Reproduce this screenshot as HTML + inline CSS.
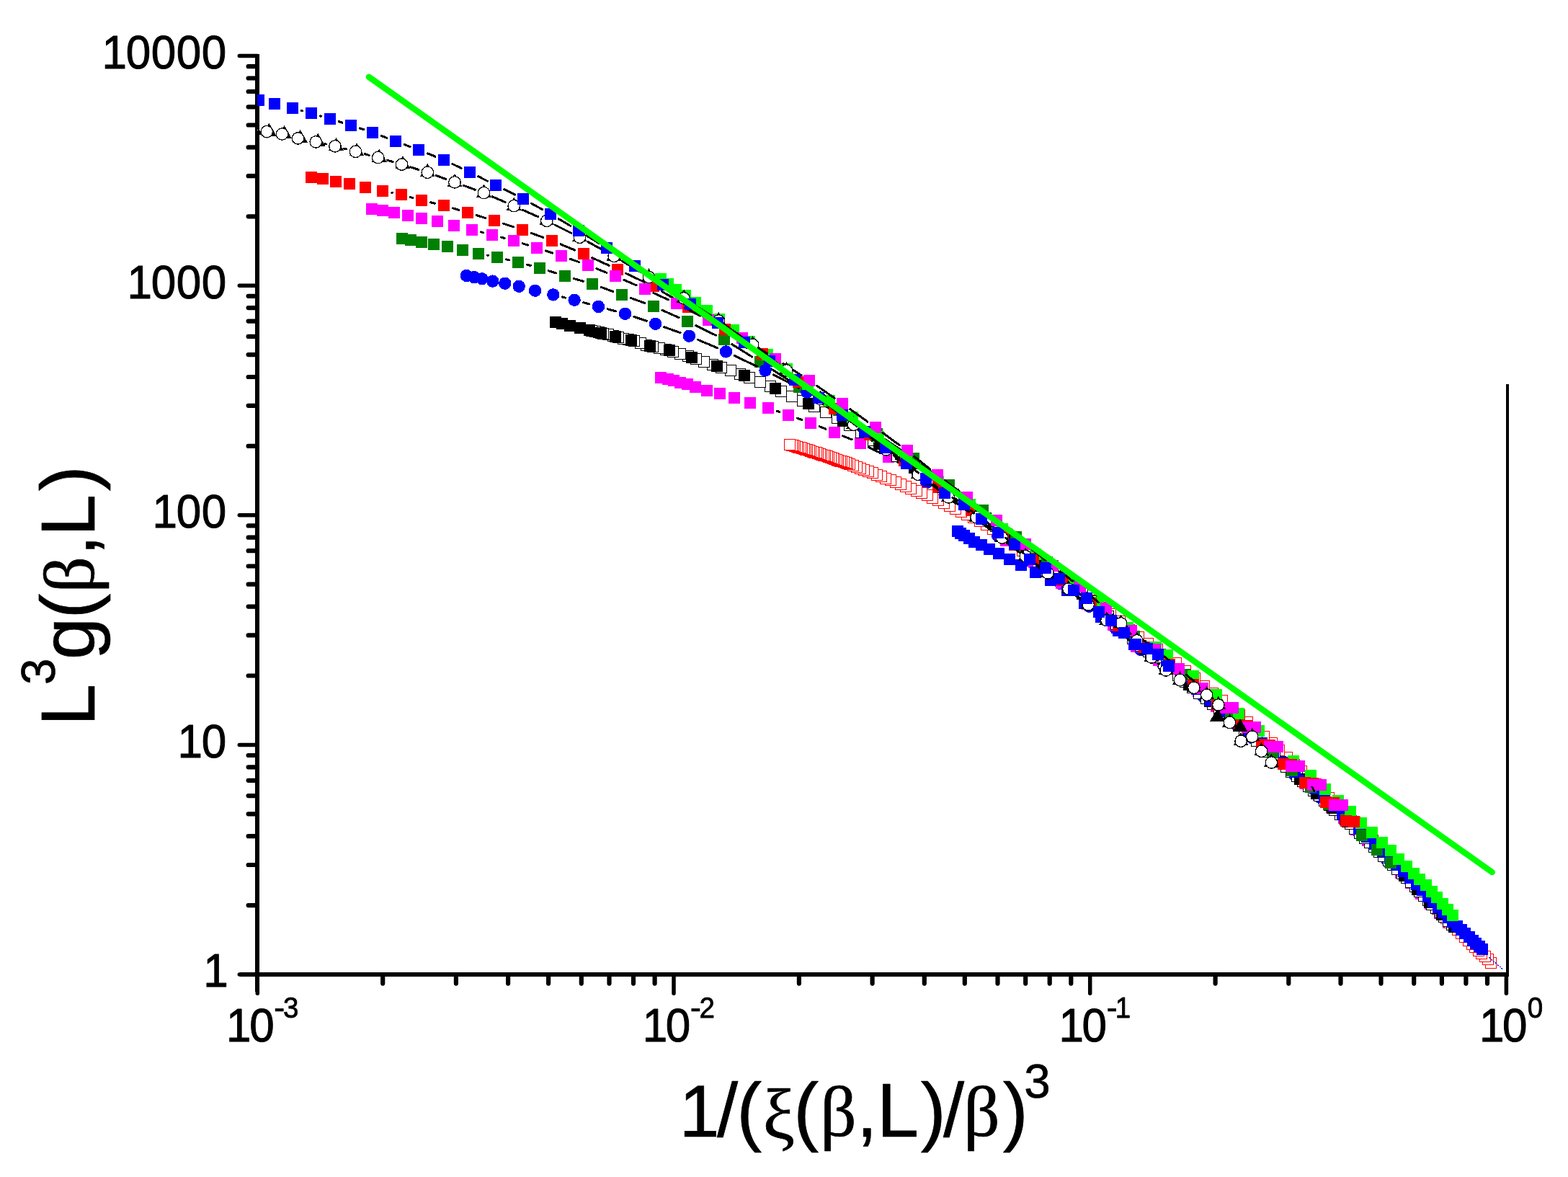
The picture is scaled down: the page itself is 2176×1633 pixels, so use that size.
<!DOCTYPE html>
<html><head><meta charset="utf-8"><title>Scaling plot</title>
<style>
html,body{margin:0;padding:0;background:#fff;}
body{width:2176px;height:1633px;overflow:hidden;}
svg{display:block;}
text{font-family:"Liberation Sans",sans-serif;fill:#000;stroke:#000;stroke-linejoin:round;}
.gk{font-family:"Liberation Serif",serif;}
</style></head><body>
<svg width="2176" height="1633" viewBox="0 0 2176 1633">
<rect width="2176" height="1633" fill="#fff"/>
<defs><clipPath id="plotclip"><rect x="356.9" y="60" width="1760" height="1292.0"/></clipPath></defs>
<g shape-rendering="crispEdges">
<rect x="354.2" y="75.2" width="5.6" height="1300.8" fill="#000"/>
<rect x="333" y="1349.2" width="1761.3000000000002" height="5.6" fill="#000"/>
<rect x="2089.9" y="533" width="4.4" height="821.8" fill="#000"/>
<path d="M332.3,1352.0H357M332.3,1033.4H357M332.3,714.8H357M332.3,396.2H357M332.3,77.6H357M357.3,1352.0V1378.2M935.0,1352.0V1378.2M1512.7,1352.0V1378.2M2090.4,1352.0V1378.2" stroke="#000" stroke-width="5.5" stroke-linecap="round" fill="none" shape-rendering="geometricPrecision"/>
<path d="M344.6,1256.1H357M344.6,1200.0H357M344.6,1160.2H357M344.6,1129.3H357M344.6,1104.1H357M344.6,1082.8H357M344.6,1064.3H357M344.6,1048.0H357M344.6,937.5H357M344.6,881.4H357M344.6,841.6H357M344.6,810.7H357M344.6,785.5H357M344.6,764.2H357M344.6,745.7H357M344.6,729.4H357M344.6,618.9H357M344.6,562.8H357M344.6,523.0H357M344.6,492.1H357M344.6,466.9H357M344.6,445.6H357M344.6,427.1H357M344.6,410.8H357M344.6,300.3H357M344.6,244.2H357M344.6,204.4H357M344.6,173.5H357M344.6,148.3H357M344.6,127.0H357M344.6,108.5H357M344.6,92.2H357M531.2,1352.0V1364.6M632.9,1352.0V1364.6M705.1,1352.0V1364.6M761.1,1352.0V1364.6M806.8,1352.0V1364.6M845.5,1352.0V1364.6M879.0,1352.0V1364.6M908.6,1352.0V1364.6M1108.9,1352.0V1364.6M1210.6,1352.0V1364.6M1282.8,1352.0V1364.6M1338.8,1352.0V1364.6M1384.5,1352.0V1364.6M1423.2,1352.0V1364.6M1456.7,1352.0V1364.6M1486.3,1352.0V1364.6M1686.6,1352.0V1364.6M1788.3,1352.0V1364.6M1860.5,1352.0V1364.6M1916.5,1352.0V1364.6M1962.2,1352.0V1364.6M2000.9,1352.0V1364.6M2034.4,1352.0V1364.6M2064.0,1352.0V1364.6" stroke="#000" stroke-width="6.2" stroke-linecap="round" fill="none" shape-rendering="geometricPrecision"/>
</g>
<g shape-rendering="crispEdges" clip-path="url(#plotclip)">
<g><circle cx="1925.0" cy="1193.5" r="8.7" fill="#0000ff"/><circle cx="1911.1" cy="1180.0" r="8.7" fill="#0000ff"/><circle cx="1896.7" cy="1166.0" r="8.7" fill="#0000ff"/><circle cx="1881.7" cy="1151.5" r="8.7" fill="#0000ff"/><circle cx="1866.0" cy="1136.9" r="8.7" fill="#0000ff"/><circle cx="1849.8" cy="1122.3" r="8.7" fill="#0000ff"/><circle cx="1832.9" cy="1106.9" r="8.7" fill="#0000ff"/><circle cx="1815.3" cy="1090.9" r="8.7" fill="#0000ff"/><circle cx="1797.1" cy="1075.6" r="8.7" fill="#0000ff"/><circle cx="1778.1" cy="1058.5" r="8.7" fill="#0000ff"/><circle cx="1758.3" cy="1041.3" r="8.7" fill="#0000ff"/><circle cx="1737.8" cy="1023.6" r="8.7" fill="#0000ff"/><circle cx="1716.4" cy="1005.3" r="8.7" fill="#0000ff"/><circle cx="1693.9" cy="986.3" r="8.7" fill="#0000ff"/><circle cx="1669.5" cy="966.0" r="8.7" fill="#0000ff"/><circle cx="1642.9" cy="944.4" r="8.7" fill="#0000ff"/><circle cx="1614.0" cy="922.1" r="8.7" fill="#0000ff"/><circle cx="1582.7" cy="901.4" r="8.7" fill="#0000ff"/><circle cx="1548.5" cy="872.4" r="8.7" fill="#0000ff"/><circle cx="1511.5" cy="841.3" r="8.7" fill="#0000ff"/><circle cx="1471.8" cy="809.7" r="8.7" fill="#0000ff"/><circle cx="1429.5" cy="778.1" r="8.7" fill="#0000ff"/><circle cx="1384.6" cy="743.1" r="8.7" fill="#0000ff"/><circle cx="1336.8" cy="706.0" r="8.7" fill="#0000ff"/><circle cx="1286.2" cy="669.3" r="8.7" fill="#0000ff"/><circle cx="1233.3" cy="628.5" r="8.7" fill="#0000ff"/><circle cx="1177.9" cy="586.9" r="8.7" fill="#0000ff"/></g>
<g><path d="M1078.3,570.3L1081.7,571.5M1106.3,580.1L1112.7,582.5M1137.1,591.6L1145.8,595.2M1169.9,604.9L1182.0,609.8M1205.6,620.5L1221.3,628.2M1244.3,640.2L1262.0,649.9M1283.7,664.0L1305.1,680.4M1325.9,696.0L1345.8,710.4M1366.4,726.2L1385.9,741.9M1406.3,758.0L1424.6,772.4M1445.2,788.2L1462.1,800.9M1482.7,816.8L1499.1,829.7M1519.2,846.1L1534.6,859.0M1554.3,876.0L1567.8,887.9M1588.4,903.6L1597.2,909.3M1618.5,924.2L1626.1,930.0M1646.6,946.0L1652.8,951.0" stroke="#000" stroke-width="3" stroke-linecap="round" fill="none"/><rect x="2002" y="1272" width="16" height="16" fill="#ff00ff"/><rect x="1990" y="1259" width="16" height="16" fill="#ff00ff"/><rect x="1977" y="1246" width="16" height="16" fill="#ff00ff"/><rect x="1964" y="1232" width="16" height="16" fill="#ff00ff"/><rect x="1950" y="1217" width="16" height="16" fill="#ff00ff"/><rect x="1936" y="1203" width="16" height="16" fill="#ff00ff"/><rect x="1921" y="1188" width="16" height="16" fill="#ff00ff"/><rect x="1906" y="1174" width="16" height="16" fill="#ff00ff"/><rect x="1890" y="1158" width="16" height="16" fill="#ff00ff"/><rect x="1874" y="1143" width="16" height="16" fill="#ff00ff"/><rect x="1857" y="1127" width="16" height="16" fill="#ff00ff"/><rect x="1840" y="1112" width="16" height="16" fill="#ff00ff"/><rect x="1822" y="1095" width="16" height="16" fill="#ff00ff"/><rect x="1804" y="1079" width="16" height="16" fill="#ff00ff"/><rect x="1785" y="1063" width="16" height="16" fill="#ff00ff"/><rect x="1765" y="1045" width="16" height="16" fill="#ff00ff"/><rect x="1745" y="1027" width="16" height="16" fill="#ff00ff"/><rect x="1724" y="1009" width="16" height="16" fill="#ff00ff"/><rect x="1702" y="991" width="16" height="16" fill="#ff00ff"/><rect x="1680" y="972" width="16" height="16" fill="#ff00ff"/><rect x="1655" y="951" width="16" height="16" fill="#ff00ff"/><rect x="1629" y="930" width="16" height="16" fill="#ff00ff"/><rect x="1600" y="908" width="16" height="16" fill="#ff00ff"/><rect x="1569" y="889" width="16" height="16" fill="#ff00ff"/><rect x="1537" y="859" width="16" height="16" fill="#ff00ff"/><rect x="1501" y="830" width="16" height="16" fill="#ff00ff"/><rect x="1465" y="801" width="16" height="16" fill="#ff00ff"/><rect x="1427" y="772" width="16" height="16" fill="#ff00ff"/><rect x="1388" y="742" width="16" height="16" fill="#ff00ff"/><rect x="1348" y="710" width="16" height="16" fill="#ff00ff"/><rect x="1307" y="680" width="16" height="16" fill="#ff00ff"/><rect x="1265" y="648" width="16" height="16" fill="#ff00ff"/><rect x="1225" y="626" width="16" height="16" fill="#ff00ff"/><rect x="1186" y="607" width="16" height="16" fill="#ff00ff"/><rect x="1150" y="592" width="16" height="16" fill="#ff00ff"/><rect x="1117" y="579" width="16" height="16" fill="#ff00ff"/><rect x="1086" y="568" width="16" height="16" fill="#ff00ff"/><rect x="1058" y="558" width="16" height="16" fill="#ff00ff"/><rect x="1033" y="551" width="16" height="16" fill="#ff00ff"/><rect x="1011" y="544" width="16" height="16" fill="#ff00ff"/><rect x="991" y="538" width="16" height="16" fill="#ff00ff"/><rect x="973" y="534" width="16" height="16" fill="#ff00ff"/><rect x="957" y="529" width="16" height="16" fill="#ff00ff"/><rect x="946" y="525" width="16" height="16" fill="#ff00ff"/><rect x="936" y="523" width="16" height="16" fill="#ff00ff"/><rect x="927" y="520" width="16" height="16" fill="#ff00ff"/><rect x="919" y="518" width="16" height="16" fill="#ff00ff"/><rect x="909" y="516" width="16" height="16" fill="#ff00ff"/></g>
<g><rect x="2061.5" y="1328.5" width="15" height="15" fill="#fff" stroke="#ff0000" stroke-width="1"/><rect x="2057.5" y="1323.5" width="15" height="15" fill="#fff" stroke="#ff0000" stroke-width="1"/><rect x="2053.5" y="1319.5" width="15" height="15" fill="#fff" stroke="#ff0000" stroke-width="1"/><rect x="2048.5" y="1315.5" width="15" height="15" fill="#fff" stroke="#ff0000" stroke-width="1"/><rect x="2044.5" y="1311.5" width="15" height="15" fill="#fff" stroke="#ff0000" stroke-width="1"/><rect x="2039.5" y="1306.5" width="15" height="15" fill="#fff" stroke="#ff0000" stroke-width="1"/><rect x="2035.5" y="1302.5" width="15" height="15" fill="#fff" stroke="#ff0000" stroke-width="1"/><rect x="2030.5" y="1297.5" width="15" height="15" fill="#fff" stroke="#ff0000" stroke-width="1"/><rect x="2025.5" y="1292.5" width="15" height="15" fill="#fff" stroke="#ff0000" stroke-width="1"/><rect x="2020.5" y="1287.5" width="15" height="15" fill="#fff" stroke="#ff0000" stroke-width="1"/><rect x="2015.5" y="1282.5" width="15" height="15" fill="#fff" stroke="#ff0000" stroke-width="1"/><rect x="2010.5" y="1277.5" width="15" height="15" fill="#fff" stroke="#ff0000" stroke-width="1"/><rect x="2004.5" y="1272.5" width="15" height="15" fill="#fff" stroke="#ff0000" stroke-width="1"/><rect x="1999.5" y="1266.5" width="15" height="15" fill="#fff" stroke="#ff0000" stroke-width="1"/><rect x="1993.5" y="1259.5" width="15" height="15" fill="#fff" stroke="#ff0000" stroke-width="1"/><rect x="1987.5" y="1253.5" width="15" height="15" fill="#fff" stroke="#ff0000" stroke-width="1"/><rect x="1981.5" y="1247.5" width="15" height="15" fill="#fff" stroke="#ff0000" stroke-width="1"/><rect x="1975.5" y="1240.5" width="15" height="15" fill="#fff" stroke="#ff0000" stroke-width="1"/><rect x="1969.5" y="1233.5" width="15" height="15" fill="#fff" stroke="#ff0000" stroke-width="1"/><rect x="1962.5" y="1226.5" width="15" height="15" fill="#fff" stroke="#ff0000" stroke-width="1"/><rect x="1956.5" y="1219.5" width="15" height="15" fill="#fff" stroke="#ff0000" stroke-width="1"/><rect x="1949.5" y="1211.5" width="15" height="15" fill="#fff" stroke="#ff0000" stroke-width="1"/><rect x="1942.5" y="1204.5" width="15" height="15" fill="#fff" stroke="#ff0000" stroke-width="1"/><rect x="1935.5" y="1196.5" width="15" height="15" fill="#fff" stroke="#ff0000" stroke-width="1"/><rect x="1927.5" y="1189.5" width="15" height="15" fill="#fff" stroke="#ff0000" stroke-width="1"/><rect x="1920.5" y="1181.5" width="15" height="15" fill="#fff" stroke="#ff0000" stroke-width="1"/><rect x="1912.5" y="1174.5" width="15" height="15" fill="#fff" stroke="#ff0000" stroke-width="1"/><rect x="1904.5" y="1166.5" width="15" height="15" fill="#fff" stroke="#ff0000" stroke-width="1"/><rect x="1897.5" y="1158.5" width="15" height="15" fill="#fff" stroke="#ff0000" stroke-width="1"/><rect x="1888.5" y="1150.5" width="15" height="15" fill="#fff" stroke="#ff0000" stroke-width="1"/><rect x="1880.5" y="1141.5" width="15" height="15" fill="#fff" stroke="#ff0000" stroke-width="1"/><rect x="1872.5" y="1133.5" width="15" height="15" fill="#fff" stroke="#ff0000" stroke-width="1"/><rect x="1863.5" y="1124.5" width="15" height="15" fill="#fff" stroke="#ff0000" stroke-width="1"/><rect x="1855.5" y="1116.5" width="15" height="15" fill="#fff" stroke="#ff0000" stroke-width="1"/><rect x="1846.5" y="1107.5" width="15" height="15" fill="#fff" stroke="#ff0000" stroke-width="1"/><rect x="1836.5" y="1099.5" width="15" height="15" fill="#fff" stroke="#ff0000" stroke-width="1"/><rect x="1827.5" y="1090.5" width="15" height="15" fill="#fff" stroke="#ff0000" stroke-width="1"/><rect x="1818.5" y="1080.5" width="15" height="15" fill="#fff" stroke="#ff0000" stroke-width="1"/><rect x="1808.5" y="1071.5" width="15" height="15" fill="#fff" stroke="#ff0000" stroke-width="1"/><rect x="1798.5" y="1062.5" width="15" height="15" fill="#fff" stroke="#ff0000" stroke-width="1"/><rect x="1788.5" y="1053.5" width="15" height="15" fill="#fff" stroke="#ff0000" stroke-width="1"/><rect x="1778.5" y="1043.5" width="15" height="15" fill="#fff" stroke="#ff0000" stroke-width="1"/><rect x="1767.5" y="1033.5" width="15" height="15" fill="#fff" stroke="#ff0000" stroke-width="1"/><rect x="1757.5" y="1023.5" width="15" height="15" fill="#fff" stroke="#ff0000" stroke-width="1"/><rect x="1746.5" y="1014.5" width="15" height="15" fill="#fff" stroke="#ff0000" stroke-width="1"/><rect x="1734.5" y="1004.5" width="15" height="15" fill="#fff" stroke="#ff0000" stroke-width="1"/><rect x="1723.5" y="994.5" width="15" height="15" fill="#fff" stroke="#ff0000" stroke-width="1"/><rect x="1712.5" y="984.5" width="15" height="15" fill="#fff" stroke="#ff0000" stroke-width="1"/><rect x="1700.5" y="974.5" width="15" height="15" fill="#fff" stroke="#ff0000" stroke-width="1"/><rect x="1688.5" y="964.5" width="15" height="15" fill="#fff" stroke="#ff0000" stroke-width="1"/><rect x="1675.5" y="954.5" width="15" height="15" fill="#fff" stroke="#ff0000" stroke-width="1"/><rect x="1663.5" y="944.5" width="15" height="15" fill="#fff" stroke="#ff0000" stroke-width="1"/><rect x="1650.5" y="933.5" width="15" height="15" fill="#fff" stroke="#ff0000" stroke-width="1"/><rect x="1637.5" y="923.5" width="15" height="15" fill="#fff" stroke="#ff0000" stroke-width="1"/><rect x="1624.5" y="912.5" width="15" height="15" fill="#fff" stroke="#ff0000" stroke-width="1"/><rect x="1611.5" y="902.5" width="15" height="15" fill="#fff" stroke="#ff0000" stroke-width="1"/><rect x="1598.5" y="893.5" width="15" height="15" fill="#fff" stroke="#ff0000" stroke-width="1"/><rect x="1585.5" y="885.5" width="15" height="15" fill="#fff" stroke="#ff0000" stroke-width="1"/><rect x="1572.5" y="876.5" width="15" height="15" fill="#fff" stroke="#ff0000" stroke-width="1"/><rect x="1559.5" y="866.5" width="15" height="15" fill="#fff" stroke="#ff0000" stroke-width="1"/><rect x="1546.5" y="854.5" width="15" height="15" fill="#fff" stroke="#ff0000" stroke-width="1"/><rect x="1533.5" y="844.5" width="15" height="15" fill="#fff" stroke="#ff0000" stroke-width="1"/><rect x="1520.5" y="835.5" width="15" height="15" fill="#fff" stroke="#ff0000" stroke-width="1"/><rect x="1507.5" y="825.5" width="15" height="15" fill="#fff" stroke="#ff0000" stroke-width="1"/><rect x="1494.5" y="815.5" width="15" height="15" fill="#fff" stroke="#ff0000" stroke-width="1"/><rect x="1481.5" y="805.5" width="15" height="15" fill="#fff" stroke="#ff0000" stroke-width="1"/><rect x="1469.5" y="797.5" width="15" height="15" fill="#fff" stroke="#ff0000" stroke-width="1"/><rect x="1457.5" y="788.5" width="15" height="15" fill="#fff" stroke="#ff0000" stroke-width="1"/><rect x="1445.5" y="780.5" width="15" height="15" fill="#fff" stroke="#ff0000" stroke-width="1"/><rect x="1433.5" y="772.5" width="15" height="15" fill="#fff" stroke="#ff0000" stroke-width="1"/><rect x="1422.5" y="764.5" width="15" height="15" fill="#fff" stroke="#ff0000" stroke-width="1"/><rect x="1411.5" y="756.5" width="15" height="15" fill="#fff" stroke="#ff0000" stroke-width="1"/><rect x="1400.5" y="748.5" width="15" height="15" fill="#fff" stroke="#ff0000" stroke-width="1"/><rect x="1390.5" y="739.5" width="15" height="15" fill="#fff" stroke="#ff0000" stroke-width="1"/><rect x="1380.5" y="732.5" width="15" height="15" fill="#fff" stroke="#ff0000" stroke-width="1"/><rect x="1370.5" y="726.5" width="15" height="15" fill="#fff" stroke="#ff0000" stroke-width="1"/><rect x="1361.5" y="720.5" width="15" height="15" fill="#fff" stroke="#ff0000" stroke-width="1"/><rect x="1352.5" y="715.5" width="15" height="15" fill="#fff" stroke="#ff0000" stroke-width="1"/><rect x="1343.5" y="710.5" width="15" height="15" fill="#fff" stroke="#ff0000" stroke-width="1"/><rect x="1334.5" y="706.5" width="15" height="15" fill="#fff" stroke="#ff0000" stroke-width="1"/><rect x="1326.5" y="702.5" width="15" height="15" fill="#fff" stroke="#ff0000" stroke-width="1"/><rect x="1318.5" y="698.5" width="15" height="15" fill="#fff" stroke="#ff0000" stroke-width="1"/><rect x="1310.5" y="694.5" width="15" height="15" fill="#fff" stroke="#ff0000" stroke-width="1"/><rect x="1302.5" y="690.5" width="15" height="15" fill="#fff" stroke="#ff0000" stroke-width="1"/><rect x="1294.5" y="686.5" width="15" height="15" fill="#fff" stroke="#ff0000" stroke-width="1"/><rect x="1286.5" y="683.5" width="15" height="15" fill="#fff" stroke="#ff0000" stroke-width="1"/><rect x="1279.5" y="679.5" width="15" height="15" fill="#fff" stroke="#ff0000" stroke-width="1"/><rect x="1271.5" y="676.5" width="15" height="15" fill="#fff" stroke="#ff0000" stroke-width="1"/><rect x="1264.5" y="673.5" width="15" height="15" fill="#fff" stroke="#ff0000" stroke-width="1"/><rect x="1256.5" y="670.5" width="15" height="15" fill="#fff" stroke="#ff0000" stroke-width="1"/><rect x="1249.5" y="667.5" width="15" height="15" fill="#fff" stroke="#ff0000" stroke-width="1"/><rect x="1242.5" y="664.5" width="15" height="15" fill="#fff" stroke="#ff0000" stroke-width="1"/><rect x="1235.5" y="661.5" width="15" height="15" fill="#fff" stroke="#ff0000" stroke-width="1"/><rect x="1228.5" y="658.5" width="15" height="15" fill="#fff" stroke="#ff0000" stroke-width="1"/><rect x="1221.5" y="656.5" width="15" height="15" fill="#fff" stroke="#ff0000" stroke-width="1"/><rect x="1215.5" y="653.5" width="15" height="15" fill="#fff" stroke="#ff0000" stroke-width="1"/><rect x="1209.5" y="651.5" width="15" height="15" fill="#fff" stroke="#ff0000" stroke-width="1"/><rect x="1203.5" y="648.5" width="15" height="15" fill="#fff" stroke="#ff0000" stroke-width="1"/><rect x="1197.5" y="646.5" width="15" height="15" fill="#fff" stroke="#ff0000" stroke-width="1"/><rect x="1191.5" y="644.5" width="15" height="15" fill="#fff" stroke="#ff0000" stroke-width="1"/><rect x="1186.5" y="642.5" width="15" height="15" fill="#fff" stroke="#ff0000" stroke-width="1"/><rect x="1181.5" y="640.5" width="15" height="15" fill="#fff" stroke="#ff0000" stroke-width="1"/><rect x="1176.5" y="638.5" width="15" height="15" fill="#fff" stroke="#ff0000" stroke-width="1"/><rect x="1171.5" y="636.5" width="15" height="15" fill="#fff" stroke="#ff0000" stroke-width="1"/><rect x="1168.5" y="635.5" width="15" height="15" fill="#fff" stroke="#ff0000" stroke-width="1"/><rect x="1166.5" y="634.5" width="15" height="15" fill="#fff" stroke="#ff0000" stroke-width="1"/><rect x="1163.5" y="633.5" width="15" height="15" fill="#fff" stroke="#ff0000" stroke-width="1"/><rect x="1160.5" y="632.5" width="15" height="15" fill="#fff" stroke="#ff0000" stroke-width="1"/><rect x="1158.5" y="632.5" width="15" height="15" fill="#fff" stroke="#ff0000" stroke-width="1"/><rect x="1155.5" y="631.5" width="15" height="15" fill="#fff" stroke="#ff0000" stroke-width="1"/><rect x="1153.5" y="630.5" width="15" height="15" fill="#fff" stroke="#ff0000" stroke-width="1"/><rect x="1150.5" y="629.5" width="15" height="15" fill="#fff" stroke="#ff0000" stroke-width="1"/><rect x="1148.5" y="628.5" width="15" height="15" fill="#fff" stroke="#ff0000" stroke-width="1"/><rect x="1145.5" y="627.5" width="15" height="15" fill="#fff" stroke="#ff0000" stroke-width="1"/><rect x="1142.5" y="626.5" width="15" height="15" fill="#fff" stroke="#ff0000" stroke-width="1"/><rect x="1140.5" y="625.5" width="15" height="15" fill="#fff" stroke="#ff0000" stroke-width="1"/><rect x="1137.5" y="624.5" width="15" height="15" fill="#fff" stroke="#ff0000" stroke-width="1"/><rect x="1135.5" y="624.5" width="15" height="15" fill="#fff" stroke="#ff0000" stroke-width="1"/><rect x="1132.5" y="623.5" width="15" height="15" fill="#fff" stroke="#ff0000" stroke-width="1"/><rect x="1130.5" y="622.5" width="15" height="15" fill="#fff" stroke="#ff0000" stroke-width="1"/><rect x="1127.5" y="621.5" width="15" height="15" fill="#fff" stroke="#ff0000" stroke-width="1"/><rect x="1125.5" y="620.5" width="15" height="15" fill="#fff" stroke="#ff0000" stroke-width="1"/><rect x="1122.5" y="620.5" width="15" height="15" fill="#fff" stroke="#ff0000" stroke-width="1"/><rect x="1120.5" y="619.5" width="15" height="15" fill="#fff" stroke="#ff0000" stroke-width="1"/><rect x="1117.5" y="618.5" width="15" height="15" fill="#fff" stroke="#ff0000" stroke-width="1"/><rect x="1115.5" y="617.5" width="15" height="15" fill="#fff" stroke="#ff0000" stroke-width="1"/><rect x="1112.5" y="616.5" width="15" height="15" fill="#fff" stroke="#ff0000" stroke-width="1"/><rect x="1110.5" y="616.5" width="15" height="15" fill="#fff" stroke="#ff0000" stroke-width="1"/><rect x="1108.5" y="615.5" width="15" height="15" fill="#fff" stroke="#ff0000" stroke-width="1"/><rect x="1105.5" y="614.5" width="15" height="15" fill="#fff" stroke="#ff0000" stroke-width="1"/><rect x="1103.5" y="613.5" width="15" height="15" fill="#fff" stroke="#ff0000" stroke-width="1"/><rect x="1100.5" y="613.5" width="15" height="15" fill="#fff" stroke="#ff0000" stroke-width="1"/><rect x="1098.5" y="612.5" width="15" height="15" fill="#fff" stroke="#ff0000" stroke-width="1"/><rect x="1095.5" y="611.5" width="15" height="15" fill="#fff" stroke="#ff0000" stroke-width="1"/><rect x="1093.5" y="610.5" width="15" height="15" fill="#fff" stroke="#ff0000" stroke-width="1"/><rect x="1091.5" y="610.5" width="15" height="15" fill="#fff" stroke="#ff0000" stroke-width="1"/><rect x="1088.5" y="609.5" width="15" height="15" fill="#fff" stroke="#ff0000" stroke-width="1"/></g>
<g><rect x="2007.5" y="1275.5" width="15" height="15" fill="#fff" stroke="#000000" stroke-width="1"/><rect x="2002.5" y="1270.5" width="15" height="15" fill="#fff" stroke="#000000" stroke-width="1"/><rect x="1996.5" y="1264.5" width="15" height="15" fill="#fff" stroke="#000000" stroke-width="1"/><rect x="1991.5" y="1258.5" width="15" height="15" fill="#fff" stroke="#000000" stroke-width="1"/><rect x="1985.5" y="1252.5" width="15" height="15" fill="#fff" stroke="#000000" stroke-width="1"/><rect x="1979.5" y="1247.5" width="15" height="15" fill="#fff" stroke="#000000" stroke-width="1"/><rect x="1974.5" y="1241.5" width="15" height="15" fill="#fff" stroke="#000000" stroke-width="1"/><rect x="1968.5" y="1235.5" width="15" height="15" fill="#fff" stroke="#000000" stroke-width="1"/><rect x="1962.5" y="1229.5" width="15" height="15" fill="#fff" stroke="#000000" stroke-width="1"/><rect x="1956.5" y="1222.5" width="15" height="15" fill="#fff" stroke="#000000" stroke-width="1"/><rect x="1950.5" y="1216.5" width="15" height="15" fill="#fff" stroke="#000000" stroke-width="1"/><rect x="1944.5" y="1210.5" width="15" height="15" fill="#fff" stroke="#000000" stroke-width="1"/><rect x="1938.5" y="1204.5" width="15" height="15" fill="#fff" stroke="#000000" stroke-width="1"/><rect x="1931.5" y="1198.5" width="15" height="15" fill="#fff" stroke="#000000" stroke-width="1"/><rect x="1925.5" y="1192.5" width="15" height="15" fill="#fff" stroke="#000000" stroke-width="1"/><rect x="1919.5" y="1186.5" width="15" height="15" fill="#fff" stroke="#000000" stroke-width="1"/><rect x="1912.5" y="1180.5" width="15" height="15" fill="#fff" stroke="#000000" stroke-width="1"/><rect x="1906.5" y="1174.5" width="15" height="15" fill="#fff" stroke="#000000" stroke-width="1"/><rect x="1899.5" y="1167.5" width="15" height="15" fill="#fff" stroke="#000000" stroke-width="1"/><rect x="1893.5" y="1161.5" width="15" height="15" fill="#fff" stroke="#000000" stroke-width="1"/><rect x="1886.5" y="1155.5" width="15" height="15" fill="#fff" stroke="#000000" stroke-width="1"/><rect x="1879.5" y="1148.5" width="15" height="15" fill="#fff" stroke="#000000" stroke-width="1"/><rect x="1872.5" y="1142.5" width="15" height="15" fill="#fff" stroke="#000000" stroke-width="1"/><rect x="1866.5" y="1135.5" width="15" height="15" fill="#fff" stroke="#000000" stroke-width="1"/><rect x="1859.5" y="1129.5" width="15" height="15" fill="#fff" stroke="#000000" stroke-width="1"/><rect x="1852.5" y="1122.5" width="15" height="15" fill="#fff" stroke="#000000" stroke-width="1"/><rect x="1844.5" y="1116.5" width="15" height="15" fill="#fff" stroke="#000000" stroke-width="1"/><rect x="1837.5" y="1109.5" width="15" height="15" fill="#fff" stroke="#000000" stroke-width="1"/><rect x="1830.5" y="1103.5" width="15" height="15" fill="#fff" stroke="#000000" stroke-width="1"/><rect x="1823.5" y="1096.5" width="15" height="15" fill="#fff" stroke="#000000" stroke-width="1"/><rect x="1815.5" y="1089.5" width="15" height="15" fill="#fff" stroke="#000000" stroke-width="1"/><rect x="1808.5" y="1083.5" width="15" height="15" fill="#fff" stroke="#000000" stroke-width="1"/><rect x="1800.5" y="1076.5" width="15" height="15" fill="#fff" stroke="#000000" stroke-width="1"/><rect x="1792.5" y="1069.5" width="15" height="15" fill="#fff" stroke="#000000" stroke-width="1"/><rect x="1784.5" y="1063.5" width="15" height="15" fill="#fff" stroke="#000000" stroke-width="1"/><rect x="1777.5" y="1056.5" width="15" height="15" fill="#fff" stroke="#000000" stroke-width="1"/><rect x="1769.5" y="1049.5" width="15" height="15" fill="#fff" stroke="#000000" stroke-width="1"/><rect x="1761.5" y="1042.5" width="15" height="15" fill="#fff" stroke="#000000" stroke-width="1"/><rect x="1753.5" y="1035.5" width="15" height="15" fill="#fff" stroke="#000000" stroke-width="1"/><rect x="1744.5" y="1028.5" width="15" height="15" fill="#fff" stroke="#000000" stroke-width="1"/><rect x="1736.5" y="1020.5" width="15" height="15" fill="#fff" stroke="#000000" stroke-width="1"/><rect x="1728.5" y="1013.5" width="15" height="15" fill="#fff" stroke="#000000" stroke-width="1"/><rect x="1719.5" y="1006.5" width="15" height="15" fill="#fff" stroke="#000000" stroke-width="1"/><rect x="1711.5" y="999.5" width="15" height="15" fill="#fff" stroke="#000000" stroke-width="1"/><rect x="1702.5" y="991.5" width="15" height="15" fill="#fff" stroke="#000000" stroke-width="1"/><rect x="1693.5" y="984.5" width="15" height="15" fill="#fff" stroke="#000000" stroke-width="1"/><rect x="1684.5" y="977.5" width="15" height="15" fill="#fff" stroke="#000000" stroke-width="1"/><rect x="1675.5" y="969.5" width="15" height="15" fill="#fff" stroke="#000000" stroke-width="1"/><rect x="1666.5" y="961.5" width="15" height="15" fill="#fff" stroke="#000000" stroke-width="1"/><rect x="1656.5" y="954.5" width="15" height="15" fill="#fff" stroke="#000000" stroke-width="1"/><rect x="1647.5" y="946.5" width="15" height="15" fill="#fff" stroke="#000000" stroke-width="1"/><rect x="1637.5" y="938.5" width="15" height="15" fill="#fff" stroke="#000000" stroke-width="1"/><rect x="1627.5" y="929.5" width="15" height="15" fill="#fff" stroke="#000000" stroke-width="1"/><rect x="1617.5" y="920.5" width="15" height="15" fill="#fff" stroke="#000000" stroke-width="1"/><rect x="1607.5" y="912.5" width="15" height="15" fill="#fff" stroke="#000000" stroke-width="1"/><rect x="1596.5" y="904.5" width="15" height="15" fill="#fff" stroke="#000000" stroke-width="1"/><rect x="1586.5" y="896.5" width="15" height="15" fill="#fff" stroke="#000000" stroke-width="1"/><rect x="1575.5" y="888.5" width="15" height="15" fill="#fff" stroke="#000000" stroke-width="1"/><rect x="1564.5" y="878.5" width="15" height="15" fill="#fff" stroke="#000000" stroke-width="1"/><rect x="1553.5" y="868.5" width="15" height="15" fill="#fff" stroke="#000000" stroke-width="1"/><rect x="1541.5" y="858.5" width="15" height="15" fill="#fff" stroke="#000000" stroke-width="1"/><rect x="1530.5" y="847.5" width="15" height="15" fill="#fff" stroke="#000000" stroke-width="1"/><rect x="1518.5" y="837.5" width="15" height="15" fill="#fff" stroke="#000000" stroke-width="1"/><rect x="1506.5" y="826.5" width="15" height="15" fill="#fff" stroke="#000000" stroke-width="1"/><rect x="1494.5" y="816.5" width="15" height="15" fill="#fff" stroke="#000000" stroke-width="1"/><rect x="1482.5" y="805.5" width="15" height="15" fill="#fff" stroke="#000000" stroke-width="1"/><rect x="1469.5" y="795.5" width="15" height="15" fill="#fff" stroke="#000000" stroke-width="1"/><rect x="1456.5" y="785.5" width="15" height="15" fill="#fff" stroke="#000000" stroke-width="1"/><rect x="1443.5" y="776.5" width="15" height="15" fill="#fff" stroke="#000000" stroke-width="1"/><rect x="1430.5" y="765.5" width="15" height="15" fill="#fff" stroke="#000000" stroke-width="1"/><rect x="1416.5" y="755.5" width="15" height="15" fill="#fff" stroke="#000000" stroke-width="1"/><rect x="1403.5" y="744.5" width="15" height="15" fill="#fff" stroke="#000000" stroke-width="1"/><rect x="1389.5" y="733.5" width="15" height="15" fill="#fff" stroke="#000000" stroke-width="1"/><rect x="1374.5" y="722.5" width="15" height="15" fill="#fff" stroke="#000000" stroke-width="1"/><rect x="1360.5" y="711.5" width="15" height="15" fill="#fff" stroke="#000000" stroke-width="1"/><rect x="1345.5" y="700.5" width="15" height="15" fill="#fff" stroke="#000000" stroke-width="1"/><rect x="1330.5" y="689.5" width="15" height="15" fill="#fff" stroke="#000000" stroke-width="1"/><rect x="1315.5" y="678.5" width="15" height="15" fill="#fff" stroke="#000000" stroke-width="1"/><rect x="1300.5" y="668.5" width="15" height="15" fill="#fff" stroke="#000000" stroke-width="1"/><rect x="1284.5" y="657.5" width="15" height="15" fill="#fff" stroke="#000000" stroke-width="1"/><rect x="1269.5" y="646.5" width="15" height="15" fill="#fff" stroke="#000000" stroke-width="1"/><rect x="1253.5" y="635.5" width="15" height="15" fill="#fff" stroke="#000000" stroke-width="1"/><rect x="1237.5" y="625.5" width="15" height="15" fill="#fff" stroke="#000000" stroke-width="1"/><rect x="1220.5" y="614.5" width="15" height="15" fill="#fff" stroke="#000000" stroke-width="1"/><rect x="1204.5" y="603.5" width="15" height="15" fill="#fff" stroke="#000000" stroke-width="1"/><rect x="1187.5" y="592.5" width="15" height="15" fill="#fff" stroke="#000000" stroke-width="1"/><rect x="1171.5" y="582.5" width="15" height="15" fill="#fff" stroke="#000000" stroke-width="1"/><rect x="1154.5" y="572.5" width="15" height="15" fill="#fff" stroke="#000000" stroke-width="1"/><rect x="1138.5" y="564.5" width="15" height="15" fill="#fff" stroke="#000000" stroke-width="1"/><rect x="1122.5" y="556.5" width="15" height="15" fill="#fff" stroke="#000000" stroke-width="1"/><rect x="1106.5" y="548.5" width="15" height="15" fill="#fff" stroke="#000000" stroke-width="1"/><rect x="1091.5" y="542.5" width="15" height="15" fill="#fff" stroke="#000000" stroke-width="1"/><rect x="1076.5" y="535.5" width="15" height="15" fill="#fff" stroke="#000000" stroke-width="1"/><rect x="1061.5" y="528.5" width="15" height="15" fill="#fff" stroke="#000000" stroke-width="1"/><rect x="1047.5" y="522.5" width="15" height="15" fill="#fff" stroke="#000000" stroke-width="1"/><rect x="1032.5" y="516.5" width="15" height="15" fill="#fff" stroke="#000000" stroke-width="1"/><rect x="1019.5" y="511.5" width="15" height="15" fill="#fff" stroke="#000000" stroke-width="1"/><rect x="1006.5" y="506.5" width="15" height="15" fill="#fff" stroke="#000000" stroke-width="1"/><rect x="993.5" y="502.5" width="15" height="15" fill="#fff" stroke="#000000" stroke-width="1"/><rect x="981.5" y="498.5" width="15" height="15" fill="#fff" stroke="#000000" stroke-width="1"/><rect x="969.5" y="494.5" width="15" height="15" fill="#fff" stroke="#000000" stroke-width="1"/><rect x="958.5" y="490.5" width="15" height="15" fill="#fff" stroke="#000000" stroke-width="1"/><rect x="947.5" y="486.5" width="15" height="15" fill="#fff" stroke="#000000" stroke-width="1"/><rect x="936.5" y="483.5" width="15" height="15" fill="#fff" stroke="#000000" stroke-width="1"/><rect x="926.5" y="480.5" width="15" height="15" fill="#fff" stroke="#000000" stroke-width="1"/><rect x="916.5" y="477.5" width="15" height="15" fill="#fff" stroke="#000000" stroke-width="1"/><rect x="907.5" y="475.5" width="15" height="15" fill="#fff" stroke="#000000" stroke-width="1"/><rect x="898.5" y="473.5" width="15" height="15" fill="#fff" stroke="#000000" stroke-width="1"/><rect x="889.5" y="471.5" width="15" height="15" fill="#fff" stroke="#000000" stroke-width="1"/><rect x="881.5" y="468.5" width="15" height="15" fill="#fff" stroke="#000000" stroke-width="1"/><rect x="872.5" y="465.5" width="15" height="15" fill="#fff" stroke="#000000" stroke-width="1"/><rect x="864.5" y="463.5" width="15" height="15" fill="#fff" stroke="#000000" stroke-width="1"/><rect x="857.5" y="462.5" width="15" height="15" fill="#fff" stroke="#000000" stroke-width="1"/><rect x="850.5" y="460.5" width="15" height="15" fill="#fff" stroke="#000000" stroke-width="1"/><rect x="843.5" y="458.5" width="15" height="15" fill="#fff" stroke="#000000" stroke-width="1"/><rect x="836.5" y="456.5" width="15" height="15" fill="#fff" stroke="#000000" stroke-width="1"/><rect x="829.5" y="455.5" width="15" height="15" fill="#fff" stroke="#000000" stroke-width="1"/><rect x="823.5" y="453.5" width="15" height="15" fill="#fff" stroke="#000000" stroke-width="1"/><rect x="818.5" y="452.5" width="15" height="15" fill="#fff" stroke="#000000" stroke-width="1"/><rect x="813.5" y="451.5" width="15" height="15" fill="#fff" stroke="#000000" stroke-width="1"/></g>
<g><rect x="2010" y="1278" width="16" height="16" fill="#000000"/><rect x="1993" y="1261" width="16" height="16" fill="#000000"/><rect x="1976" y="1244" width="16" height="16" fill="#000000"/><rect x="1959" y="1226" width="16" height="16" fill="#000000"/><rect x="1941" y="1207" width="16" height="16" fill="#000000"/><rect x="1922" y="1189" width="16" height="16" fill="#000000"/><rect x="1903" y="1171" width="16" height="16" fill="#000000"/><rect x="1883" y="1151" width="16" height="16" fill="#000000"/><rect x="1862" y="1132" width="16" height="16" fill="#000000"/><rect x="1841" y="1113" width="16" height="16" fill="#000000"/><rect x="1819" y="1093" width="16" height="16" fill="#000000"/><rect x="1796" y="1073" width="16" height="16" fill="#000000"/><rect x="1773" y="1052" width="16" height="16" fill="#000000"/><rect x="1749" y="1031" width="16" height="16" fill="#000000"/><rect x="1724" y="1010" width="16" height="16" fill="#000000"/><rect x="1698" y="988" width="16" height="16" fill="#000000"/><rect x="1671" y="965" width="16" height="16" fill="#000000"/><rect x="1642" y="942" width="16" height="16" fill="#000000"/><rect x="1612" y="916" width="16" height="16" fill="#000000"/><rect x="1581" y="893" width="16" height="16" fill="#000000"/><rect x="1547" y="863" width="16" height="16" fill="#000000"/><rect x="1512" y="831" width="16" height="16" fill="#000000"/><rect x="1476" y="800" width="16" height="16" fill="#000000"/><rect x="1437" y="771" width="16" height="16" fill="#000000"/><rect x="1396" y="739" width="16" height="16" fill="#000000"/><rect x="1353" y="705" width="16" height="16" fill="#000000"/><rect x="1308" y="673" width="16" height="16" fill="#000000"/><rect x="1261" y="641" width="16" height="16" fill="#000000"/><rect x="1212" y="608" width="16" height="16" fill="#000000"/><rect x="1162" y="576" width="16" height="16" fill="#000000"/><rect x="1114" y="552" width="16" height="16" fill="#000000"/><rect x="1068" y="531" width="16" height="16" fill="#000000"/><rect x="1025" y="513" width="16" height="16" fill="#000000"/><rect x="987" y="500" width="16" height="16" fill="#000000"/><rect x="952" y="488" width="16" height="16" fill="#000000"/><rect x="921" y="478" width="16" height="16" fill="#000000"/><rect x="894" y="472" width="16" height="16" fill="#000000"/><rect x="868" y="464" width="16" height="16" fill="#000000"/><rect x="846" y="459" width="16" height="16" fill="#000000"/><rect x="826" y="454" width="16" height="16" fill="#000000"/><rect x="810" y="450" width="16" height="16" fill="#000000"/><rect x="797" y="447" width="16" height="16" fill="#000000"/><rect x="783" y="444" width="16" height="16" fill="#000000"/><rect x="772" y="441" width="16" height="16" fill="#000000"/><rect x="763" y="439" width="16" height="16" fill="#000000"/></g>
<g><rect x="2049" y="1309" width="16" height="16" fill="#0000ff"/><rect x="2045" y="1305" width="16" height="16" fill="#0000ff"/><rect x="2040" y="1301" width="16" height="16" fill="#0000ff"/><rect x="2036" y="1297" width="16" height="16" fill="#0000ff"/><rect x="2031" y="1292" width="16" height="16" fill="#0000ff"/><rect x="2025" y="1287" width="16" height="16" fill="#0000ff"/><rect x="2020" y="1282" width="16" height="16" fill="#0000ff"/><rect x="2014" y="1277" width="16" height="16" fill="#0000ff"/><rect x="2008" y="1271" width="16" height="16" fill="#0000ff"/><rect x="2002" y="1265" width="16" height="16" fill="#0000ff"/><rect x="1995" y="1258" width="16" height="16" fill="#0000ff"/><rect x="1988" y="1251" width="16" height="16" fill="#0000ff"/><rect x="1981" y="1243" width="16" height="16" fill="#0000ff"/><rect x="1974" y="1236" width="16" height="16" fill="#0000ff"/><rect x="1966" y="1227" width="16" height="16" fill="#0000ff"/><rect x="1958" y="1219" width="16" height="16" fill="#0000ff"/><rect x="1949" y="1210" width="16" height="16" fill="#0000ff"/><rect x="1940" y="1201" width="16" height="16" fill="#0000ff"/><rect x="1930" y="1192" width="16" height="16" fill="#0000ff"/><rect x="1921" y="1183" width="16" height="16" fill="#0000ff"/><rect x="1911" y="1173" width="16" height="16" fill="#0000ff"/><rect x="1900" y="1163" width="16" height="16" fill="#0000ff"/><rect x="1889" y="1153" width="16" height="16" fill="#0000ff"/><rect x="1878" y="1142" width="16" height="16" fill="#0000ff"/><rect x="1867" y="1131" width="16" height="16" fill="#0000ff"/><rect x="1855" y="1121" width="16" height="16" fill="#0000ff"/><rect x="1843" y="1110" width="16" height="16" fill="#0000ff"/><rect x="1830" y="1098" width="16" height="16" fill="#0000ff"/><rect x="1817" y="1086" width="16" height="16" fill="#0000ff"/><rect x="1803" y="1075" width="16" height="16" fill="#0000ff"/><rect x="1789" y="1063" width="16" height="16" fill="#0000ff"/><rect x="1774" y="1050" width="16" height="16" fill="#0000ff"/><rect x="1759" y="1036" width="16" height="16" fill="#0000ff"/><rect x="1743" y="1023" width="16" height="16" fill="#0000ff"/><rect x="1726" y="1009" width="16" height="16" fill="#0000ff"/><rect x="1709" y="994" width="16" height="16" fill="#0000ff"/><rect x="1691" y="979" width="16" height="16" fill="#0000ff"/><rect x="1672" y="964" width="16" height="16" fill="#0000ff"/><rect x="1653" y="948" width="16" height="16" fill="#0000ff"/><rect x="1632" y="932" width="16" height="16" fill="#0000ff"/><rect x="1611" y="915" width="16" height="16" fill="#0000ff"/><rect x="1589" y="901" width="16" height="16" fill="#0000ff"/><rect x="1566" y="886" width="16" height="16" fill="#0000ff"/><rect x="1544" y="867" width="16" height="16" fill="#0000ff"/><rect x="1520" y="848" width="16" height="16" fill="#0000ff"/><rect x="1497" y="829" width="16" height="16" fill="#0000ff"/><rect x="1473" y="811" width="16" height="16" fill="#0000ff"/><rect x="1450" y="797" width="16" height="16" fill="#0000ff"/><rect x="1429" y="786" width="16" height="16" fill="#0000ff"/><rect x="1409" y="776" width="16" height="16" fill="#0000ff"/><rect x="1393" y="768" width="16" height="16" fill="#0000ff"/><rect x="1378" y="760" width="16" height="16" fill="#0000ff"/><rect x="1365" y="754" width="16" height="16" fill="#0000ff"/><rect x="1354" y="748" width="16" height="16" fill="#0000ff"/><rect x="1344" y="744" width="16" height="16" fill="#0000ff"/><rect x="1337" y="739" width="16" height="16" fill="#0000ff"/><rect x="1330" y="735" width="16" height="16" fill="#0000ff"/><rect x="1325" y="732" width="16" height="16" fill="#0000ff"/><rect x="1321" y="729" width="16" height="16" fill="#0000ff"/></g>
<g><path d="M676.6,354.3L677.3,354.5M702.7,360.0L706.3,360.8M731.5,367.2L736.4,368.5M761.3,375.8L771.6,378.9M796.5,386.5L809.4,390.3M834.1,398.4L850.9,404.5M875.3,413.4L894.8,420.5M918.9,430.3L942.1,440.7M965.7,451.7L993.1,465.1M1015.8,477.7L1043.8,495.1M1065.8,509.0L1097.9,529.6M1120.1,543.2L1152.7,562.6M1174.9,576.1L1205.8,595.2M1227.6,609.3L1257.0,628.9M1278.3,643.9L1306.6,665.1M1327.4,680.7L1354.0,700.6M1374.5,716.6L1399.7,737.0M1419.9,753.3L1443.2,771.8M1463.6,788.0L1485.0,804.9M1505.1,821.4L1525.6,839.3M1545.0,856.6L1564.1,874.0M1584.3,890.3L1599.4,901.0M1620.1,916.6L1634.3,928.0" stroke="#000" stroke-width="3" stroke-linecap="round" fill="none"/><rect x="1922" y="1189" width="16" height="16" fill="#008000"/><rect x="1903" y="1171" width="16" height="16" fill="#008000"/><rect x="1882" y="1151" width="16" height="16" fill="#008000"/><rect x="1860" y="1129" width="16" height="16" fill="#008000"/><rect x="1836" y="1108" width="16" height="16" fill="#008000"/><rect x="1811" y="1084" width="16" height="16" fill="#008000"/><rect x="1785" y="1061" width="16" height="16" fill="#008000"/><rect x="1758" y="1036" width="16" height="16" fill="#008000"/><rect x="1730" y="1010" width="16" height="16" fill="#008000"/><rect x="1700" y="984" width="16" height="16" fill="#008000"/><rect x="1669" y="956" width="16" height="16" fill="#008000"/><rect x="1636" y="928" width="16" height="16" fill="#008000"/><rect x="1602" y="900" width="16" height="16" fill="#008000"/><rect x="1566" y="875" width="16" height="16" fill="#008000"/><rect x="1527" y="840" width="16" height="16" fill="#008000"/><rect x="1487" y="805" width="16" height="16" fill="#008000"/><rect x="1445" y="772" width="16" height="16" fill="#008000"/><rect x="1402" y="737" width="16" height="16" fill="#008000"/><rect x="1356" y="700" width="16" height="16" fill="#008000"/><rect x="1309" y="665" width="16" height="16" fill="#008000"/><rect x="1260" y="628" width="16" height="16" fill="#008000"/><rect x="1209" y="594" width="16" height="16" fill="#008000"/><rect x="1156" y="561" width="16" height="16" fill="#008000"/><rect x="1101" y="529" width="16" height="16" fill="#008000"/><rect x="1047" y="494" width="16" height="16" fill="#008000"/><rect x="997" y="463" width="16" height="16" fill="#008000"/><rect x="946" y="438" width="16" height="16" fill="#008000"/><rect x="899" y="417" width="16" height="16" fill="#008000"/><rect x="855" y="401" width="16" height="16" fill="#008000"/><rect x="814" y="386" width="16" height="16" fill="#008000"/><rect x="776" y="375" width="16" height="16" fill="#008000"/><rect x="741" y="364" width="16" height="16" fill="#008000"/><rect x="711" y="356" width="16" height="16" fill="#008000"/><rect x="682" y="349" width="16" height="16" fill="#008000"/><rect x="656" y="344" width="16" height="16" fill="#008000"/><rect x="634" y="339" width="16" height="16" fill="#008000"/><rect x="613" y="334" width="16" height="16" fill="#008000"/><rect x="594" y="331" width="16" height="16" fill="#008000"/><rect x="577" y="328" width="16" height="16" fill="#008000"/><rect x="562" y="325" width="16" height="16" fill="#008000"/><rect x="550" y="323" width="16" height="16" fill="#008000"/></g>
<path d="M780.4,412.0L784.5,413.1M809.6,419.7L818.0,421.9M843.1,428.8L854.9,431.9M879.8,439.4L897.3,445.2M921.8,453.7L944.2,461.8M968.4,471.3L995.5,482.8M1019.2,493.5L1050.4,508.4M1073.6,520.0L1108.4,538.0M1130.3,551.7L1167.4,579.2M1188.3,594.7L1222.9,620.7M1243.6,636.5L1275.9,661.4M1296.7,676.9L1326.3,698.4M1347.1,714.0L1374.3,735.1M1394.9,751.1L1419.3,770.1M1439.9,785.9L1461.3,801.9M1481.9,817.8L1501.3,833.2M1521.4,849.6L1538.6,864.0M1558.4,880.8L1572.8,893.0M1593.5,908.5L1603.2,914.9M1624.3,930.0L1632.6,936.4" stroke="#000" stroke-width="3" stroke-linecap="round" fill="none"/>
<g><circle cx="1119.9" cy="544.0" r="8.7" fill="#0000ff"/><circle cx="1062.1" cy="514.0" r="8.7" fill="#0000ff"/><circle cx="1007.5" cy="487.9" r="8.7" fill="#0000ff"/><circle cx="956.4" cy="466.2" r="8.7" fill="#0000ff"/><circle cx="909.6" cy="449.3" r="8.7" fill="#0000ff"/><circle cx="867.5" cy="435.3" r="8.7" fill="#0000ff"/><circle cx="830.5" cy="425.4" r="8.7" fill="#0000ff"/><circle cx="797.1" cy="416.2" r="8.7" fill="#0000ff"/><circle cx="767.8" cy="408.9" r="8.7" fill="#0000ff"/><circle cx="742.6" cy="403.2" r="8.7" fill="#0000ff"/><circle cx="720.2" cy="397.3" r="8.7" fill="#0000ff"/><circle cx="700.7" cy="393.2" r="8.7" fill="#0000ff"/><circle cx="683.8" cy="390.1" r="8.7" fill="#0000ff"/><circle cx="669.0" cy="386.8" r="8.7" fill="#0000ff"/><circle cx="658.0" cy="384.6" r="8.7" fill="#0000ff"/><circle cx="647.4" cy="382.5" r="8.7" fill="#0000ff"/></g>
<g><rect x="2008" y="1262" width="16" height="16" fill="#00ff00"/><rect x="2001" y="1254" width="16" height="16" fill="#00ff00"/><rect x="1994" y="1246" width="16" height="16" fill="#00ff00"/><rect x="1986" y="1237" width="16" height="16" fill="#00ff00"/><rect x="1979" y="1229" width="16" height="16" fill="#00ff00"/><rect x="1971" y="1220" width="16" height="16" fill="#00ff00"/><rect x="1962" y="1212" width="16" height="16" fill="#00ff00"/><rect x="1954" y="1204" width="16" height="16" fill="#00ff00"/><rect x="1944" y="1194" width="16" height="16" fill="#00ff00"/><rect x="1933" y="1184" width="16" height="16" fill="#00ff00"/><rect x="1922" y="1172" width="16" height="16" fill="#00ff00"/><rect x="1910" y="1161" width="16" height="16" fill="#00ff00"/><rect x="1896" y="1147" width="16" height="16" fill="#00ff00"/><rect x="1881" y="1134" width="16" height="16" fill="#00ff00"/><rect x="1866" y="1118" width="16" height="16" fill="#00ff00"/><rect x="1849" y="1103" width="16" height="16" fill="#00ff00"/><rect x="1831" y="1087" width="16" height="16" fill="#00ff00"/><rect x="1811" y="1068" width="16" height="16" fill="#00ff00"/><rect x="1787" y="1048" width="16" height="16" fill="#00ff00"/><rect x="1765" y="1028" width="16" height="16" fill="#00ff00"/><rect x="1739" y="1006" width="16" height="16" fill="#00ff00"/><rect x="1711" y="982" width="16" height="16" fill="#00ff00"/><rect x="1680" y="956" width="16" height="16" fill="#00ff00"/><rect x="1648" y="930" width="16" height="16" fill="#00ff00"/><rect x="1612" y="901" width="16" height="16" fill="#00ff00"/><rect x="1596" y="890" width="16" height="16" fill="#00ff00"/><rect x="1557" y="863" width="16" height="16" fill="#00ff00"/><rect x="1516" y="828" width="16" height="16" fill="#00ff00"/><rect x="1474" y="794" width="16" height="16" fill="#00ff00"/><rect x="1429" y="761" width="16" height="16" fill="#00ff00"/><rect x="1383" y="726" width="16" height="16" fill="#00ff00"/><rect x="1338" y="692" width="16" height="16" fill="#00ff00"/><rect x="1294" y="660" width="16" height="16" fill="#00ff00"/><rect x="1250" y="628" width="16" height="16" fill="#00ff00"/><rect x="1211" y="598" width="16" height="16" fill="#00ff00"/><rect x="1175" y="571" width="16" height="16" fill="#00ff00"/><rect x="1143" y="548" width="16" height="16" fill="#00ff00"/><rect x="1113" y="525" width="16" height="16" fill="#00ff00"/><rect x="1084" y="504" width="16" height="16" fill="#00ff00"/><rect x="1057" y="484" width="16" height="16" fill="#00ff00"/><rect x="1032" y="466" width="16" height="16" fill="#00ff00"/><rect x="1010" y="450" width="16" height="16" fill="#00ff00"/><rect x="990" y="435" width="16" height="16" fill="#00ff00"/><rect x="973" y="423" width="16" height="16" fill="#00ff00"/><rect x="957" y="412" width="16" height="16" fill="#00ff00"/><rect x="943" y="402" width="16" height="16" fill="#00ff00"/><rect x="930" y="394" width="16" height="16" fill="#00ff00"/><rect x="919" y="386" width="16" height="16" fill="#00ff00"/><rect x="909" y="379" width="16" height="16" fill="#00ff00"/></g>
<g><path d="M543.8,267.4L544.3,267.5M569.6,273.5L572.5,274.4M597.7,280.8L603.4,282.2M628.5,288.8L636.6,291.3M661.5,298.7L673.5,302.4M698.4,310.1L712.5,314.8M737.1,323.3L753.8,329.4M778.0,338.9L797.9,347.1M821.7,357.6L845.0,368.3M868.6,379.3L895.0,391.8M918.0,404.0L943.4,419.1M965.7,432.5L995.0,450.3M1016.9,464.2L1046.7,483.8M1067.8,498.9L1098.2,522.4M1119.0,538.0L1148.0,559.3M1168.9,574.7L1196.9,595.1M1217.7,610.7L1244.9,631.3M1265.6,647.1L1291.8,667.1M1312.7,682.5L1337.5,700.2M1358.3,715.8L1381.9,734.2M1402.4,750.1L1424.2,767.1M1444.9,782.8L1464.7,797.6M1485.2,813.5L1503.9,828.5M1524.1,845.0L1541.6,859.7M1561.7,876.3L1577.7,889.4M1598.4,905.1L1612.1,914.6M1632.7,930.4L1646.4,941.8" stroke="#000" stroke-width="3" stroke-linecap="round" fill="none"/><rect x="1860" y="1131" width="16" height="16" fill="#ff0000"/><rect x="1832" y="1105" width="16" height="16" fill="#ff0000"/><rect x="1803" y="1078" width="16" height="16" fill="#ff0000"/><rect x="1773" y="1052" width="16" height="16" fill="#ff0000"/><rect x="1743" y="1025" width="16" height="16" fill="#ff0000"/><rect x="1712" y="998" width="16" height="16" fill="#ff0000"/><rect x="1681" y="970" width="16" height="16" fill="#ff0000"/><rect x="1648" y="942" width="16" height="16" fill="#ff0000"/><rect x="1615" y="914" width="16" height="16" fill="#ff0000"/><rect x="1580" y="890" width="16" height="16" fill="#ff0000"/><rect x="1544" y="860" width="16" height="16" fill="#ff0000"/><rect x="1506" y="829" width="16" height="16" fill="#ff0000"/><rect x="1467" y="797" width="16" height="16" fill="#ff0000"/><rect x="1426" y="767" width="16" height="16" fill="#ff0000"/><rect x="1384" y="734" width="16" height="16" fill="#ff0000"/><rect x="1340" y="700" width="16" height="16" fill="#ff0000"/><rect x="1294" y="667" width="16" height="16" fill="#ff0000"/><rect x="1247" y="631" width="16" height="16" fill="#ff0000"/><rect x="1199" y="595" width="16" height="16" fill="#ff0000"/><rect x="1150" y="559" width="16" height="16" fill="#ff0000"/><rect x="1100" y="522" width="16" height="16" fill="#ff0000"/><rect x="1050" y="483" width="16" height="16" fill="#ff0000"/><rect x="998" y="449" width="16" height="16" fill="#ff0000"/><rect x="947" y="418" width="16" height="16" fill="#ff0000"/><rect x="899" y="389" width="16" height="16" fill="#ff0000"/><rect x="849" y="366" width="16" height="16" fill="#ff0000"/><rect x="802" y="344" width="16" height="16" fill="#ff0000"/><rect x="758" y="326" width="16" height="16" fill="#ff0000"/><rect x="717" y="311" width="16" height="16" fill="#ff0000"/><rect x="678" y="298" width="16" height="16" fill="#ff0000"/><rect x="641" y="287" width="16" height="16" fill="#ff0000"/><rect x="608" y="277" width="16" height="16" fill="#ff0000"/><rect x="577" y="270" width="16" height="16" fill="#ff0000"/><rect x="549" y="262" width="16" height="16" fill="#ff0000"/><rect x="523" y="257" width="16" height="16" fill="#ff0000"/><rect x="499" y="252" width="16" height="16" fill="#ff0000"/><rect x="477" y="247" width="16" height="16" fill="#ff0000"/><rect x="458" y="244" width="16" height="16" fill="#ff0000"/><rect x="440" y="240" width="16" height="16" fill="#ff0000"/><rect x="424" y="238" width="16" height="16" fill="#ff0000"/></g>
<g><rect x="1871" y="1132" width="16" height="16" fill="#ff0000"/><rect x="1843" y="1106" width="16" height="16" fill="#ff0000"/><rect x="1814" y="1079" width="16" height="16" fill="#ff0000"/><rect x="1784" y="1053" width="16" height="16" fill="#ff0000"/><rect x="1754" y="1026" width="16" height="16" fill="#ff0000"/><rect x="1723" y="999" width="16" height="16" fill="#ff0000"/></g>
<g><path d="M667.7,322.0L670.4,322.7M695.6,329.2L700.2,330.5M725.2,337.7L732.6,340.1M757.4,348.0L766.6,351.0M791.3,359.3L803.5,363.6M827.9,372.7L841.8,378.3M865.8,388.3L883.0,395.8M906.7,406.4L927.2,415.8M950.5,427.2L971.6,438.2M994.6,450.3L1018.5,462.9M1041.0,475.9L1064.9,490.6M1086.8,504.5L1112.1,520.8M1133.7,535.3L1158.3,552.5M1179.6,567.6L1204.0,585.1M1225.0,600.4L1248.3,617.7M1268.9,633.5L1290.6,650.7M1311.2,666.6L1331.7,682.2M1352.3,698.1L1372.4,713.9M1392.6,730.3L1412.6,746.7M1432.8,763.0L1450.9,777.0M1471.5,793.0L1488.3,806.1M1508.5,822.4L1524.6,835.9M1544.3,852.9L1559.8,866.5M1579.9,882.9L1593.1,892.9M1613.5,909.0L1626.3,919.5M1646.3,936.2L1658.8,946.9" stroke="#000" stroke-width="3" stroke-linecap="round" fill="none"/><rect x="1844" y="1109" width="16" height="16" fill="#ff00ff"/><rect x="1814" y="1081" width="16" height="16" fill="#ff00ff"/><rect x="1784" y="1055" width="16" height="16" fill="#ff00ff"/><rect x="1754" y="1028" width="16" height="16" fill="#ff00ff"/><rect x="1723" y="1001" width="16" height="16" fill="#ff00ff"/><rect x="1692" y="974" width="16" height="16" fill="#ff00ff"/><rect x="1661" y="947" width="16" height="16" fill="#ff00ff"/><rect x="1628" y="920" width="16" height="16" fill="#ff00ff"/><rect x="1595" y="893" width="16" height="16" fill="#ff00ff"/><rect x="1562" y="867" width="16" height="16" fill="#ff00ff"/><rect x="1527" y="836" width="16" height="16" fill="#ff00ff"/><rect x="1491" y="806" width="16" height="16" fill="#ff00ff"/><rect x="1453" y="777" width="16" height="16" fill="#ff00ff"/><rect x="1415" y="747" width="16" height="16" fill="#ff00ff"/><rect x="1375" y="714" width="16" height="16" fill="#ff00ff"/><rect x="1334" y="682" width="16" height="16" fill="#ff00ff"/><rect x="1293" y="651" width="16" height="16" fill="#ff00ff"/><rect x="1251" y="617" width="16" height="16" fill="#ff00ff"/><rect x="1207" y="585" width="16" height="16" fill="#ff00ff"/><rect x="1161" y="552" width="16" height="16" fill="#ff00ff"/><rect x="1115" y="520" width="16" height="16" fill="#ff00ff"/><rect x="1068" y="490" width="16" height="16" fill="#ff00ff"/><rect x="1022" y="461" width="16" height="16" fill="#ff00ff"/><rect x="975" y="436" width="16" height="16" fill="#ff00ff"/><rect x="931" y="413" width="16" height="16" fill="#ff00ff"/><rect x="887" y="393" width="16" height="16" fill="#ff00ff"/><rect x="846" y="375" width="16" height="16" fill="#ff00ff"/><rect x="808" y="360" width="16" height="16" fill="#ff00ff"/><rect x="771" y="347" width="16" height="16" fill="#ff00ff"/><rect x="737" y="336" width="16" height="16" fill="#ff00ff"/><rect x="705" y="326" width="16" height="16" fill="#ff00ff"/><rect x="675" y="318" width="16" height="16" fill="#ff00ff"/><rect x="647" y="311" width="16" height="16" fill="#ff00ff"/><rect x="622" y="305" width="16" height="16" fill="#ff00ff"/><rect x="599" y="299" width="16" height="16" fill="#ff00ff"/><rect x="577" y="295" width="16" height="16" fill="#ff00ff"/><rect x="558" y="291" width="16" height="16" fill="#ff00ff"/><rect x="539" y="287" width="16" height="16" fill="#ff00ff"/><rect x="523" y="284" width="16" height="16" fill="#ff00ff"/><rect x="508" y="282" width="16" height="16" fill="#ff00ff"/></g>
<g><rect x="1855" y="1109" width="16" height="16" fill="#ff00ff"/><rect x="1825" y="1081" width="16" height="16" fill="#ff00ff"/><rect x="1795" y="1055" width="16" height="16" fill="#ff00ff"/><rect x="1765" y="1028" width="16" height="16" fill="#ff00ff"/><rect x="1734" y="1001" width="16" height="16" fill="#ff00ff"/><rect x="1703" y="974" width="16" height="16" fill="#ff00ff"/></g>
<line x1="1821" y1="1092" x2="1824" y2="1098" stroke="#000" stroke-width="3" stroke-linecap="round"/>
<g><polygon points="1721.2,997.1 1710.7,1015.3 1731.7,1015.3" fill="#000000"/><polygon points="1689.6,982.4 1679.1,1000.6 1700.1,1000.6" fill="#000000"/><polygon points="1764.4,1045.8 1753.9,1064.0 1774.9,1064.0" fill="#000000"/><polygon points="1750.6,1030.2 1740.1,1048.4 1761.1,1048.4" fill="#000000"/><polygon points="1737.7,1010.0 1727.2,1028.2 1748.2,1028.2" fill="#000000"/><polygon points="1722.1,1016.1 1711.6,1034.3 1732.6,1034.3" fill="#000000"/><polygon points="1706.5,990.3 1696.0,1008.5 1717.0,1008.5" fill="#000000"/><polygon points="1690.8,965.9 1680.3,984.1 1701.3,984.1" fill="#000000"/><polygon points="1674.7,952.1 1664.2,970.3 1685.2,970.3" fill="#000000"/><polygon points="1656.8,942.0 1646.3,960.2 1667.3,960.2" fill="#000000"/><polygon points="1637.5,931.3 1627.0,949.5 1648.0,949.5" fill="#000000"/><polygon points="1618.0,917.9 1607.5,936.1 1628.5,936.1" fill="#000000"/><polygon points="1598.0,899.9 1587.5,918.1 1608.5,918.1" fill="#000000"/><polygon points="1577.8,876.7 1567.3,894.9 1588.3,894.9" fill="#000000"/><polygon points="1555.7,852.8 1545.2,871.0 1566.2,871.0" fill="#000000"/><polygon points="1535.9,848.6 1525.4,866.7 1546.4,866.7" fill="#000000"/><polygon points="1510.2,826.9 1499.7,845.1 1520.7,845.1" fill="#000000"/><polygon points="1482.9,804.9 1472.4,823.1 1493.4,823.1" fill="#000000"/><polygon points="1454.0,782.9 1443.5,801.1 1464.5,801.1" fill="#000000"/><polygon points="1423.3,759.6 1412.8,777.8 1433.8,777.8" fill="#000000"/><polygon points="1390.6,734.0 1380.1,752.2 1401.1,752.2" fill="#000000"/><polygon points="1355.0,705.6 1344.5,723.8 1365.5,723.8" fill="#000000"/><polygon points="1316.3,677.8 1305.8,696.0 1326.8,696.0" fill="#000000"/><polygon points="1274.2,646.0 1263.7,664.2 1284.7,664.2" fill="#000000"/><polygon points="1229.8,611.7 1219.3,629.9 1240.3,629.9" fill="#000000"/><polygon points="1184.6,577.0 1174.1,595.2 1195.1,595.2" fill="#000000"/><polygon points="1138.5,541.5 1128.0,559.6 1149.0,559.6" fill="#000000"/><polygon points="1091.5,501.9 1081.0,520.1 1102.0,520.1" fill="#000000"/><polygon points="1044.7,466.1 1034.2,484.3 1055.2,484.3" fill="#000000"/><polygon points="997.4,432.9 986.9,451.1 1007.9,451.1" fill="#000000"/><polygon points="949.1,401.7 938.6,419.9 959.6,419.9" fill="#000000"/><polygon points="900.4,372.3 889.9,390.5 910.9,390.5" fill="#000000"/><polygon points="852.2,343.3 841.7,361.5 862.7,361.5" fill="#000000"/><polygon points="804.4,317.2 793.9,335.4 814.9,335.4" fill="#000000"/><polygon points="758.8,294.2 748.3,312.4 769.3,312.4" fill="#000000"/><polygon points="713.2,273.6 702.7,291.8 723.7,291.8" fill="#000000"/><polygon points="671.4,255.5 660.9,273.7 681.9,273.7" fill="#000000"/><polygon points="631.0,240.8 620.5,259.0 641.5,259.0" fill="#000000"/><polygon points="593.3,227.1 582.8,245.3 603.8,245.3" fill="#000000"/><polygon points="559.0,216.0 548.5,234.2 569.5,234.2" fill="#000000"/><polygon points="526.2,206.5 515.7,224.7 536.7,224.7" fill="#000000"/><polygon points="495.0,198.2 484.5,216.4 505.5,216.4" fill="#000000"/><polygon points="466.5,190.8 456.0,209.0 477.0,209.0" fill="#000000"/><polygon points="441.3,184.8 430.8,203.0 451.8,203.0" fill="#000000"/><polygon points="416.5,179.8 406.0,198.0 427.0,198.0" fill="#000000"/><polygon points="394.5,173.9 384.0,192.1 405.0,192.1" fill="#000000"/><polygon points="373.3,170.6 362.8,188.8 383.8,188.8" fill="#000000"/><polygon points="353.0,168.4 342.5,186.6 363.5,186.6" fill="#000000"/></g>
<g><path d="M451.0,199.8L452.3,200.0M477.6,206.2L480.9,207.0M506.1,213.6L512.1,215.3M537.2,222.2L545.0,224.5M569.9,231.9L580.9,235.4M605.5,243.6L618.8,248.5M643.2,257.3L659.2,263.2M683.3,272.8L701.3,280.5M725.0,291.1L747.0,300.9M770.4,312.2L792.8,323.4M815.8,335.5L840.8,349.2M863.3,362.1L889.3,377.7M911.5,391.1L938.0,407.1M960.0,420.9L986.5,437.9M1008.0,452.5L1034.1,470.7M1055.0,486.1L1081.2,506.1M1101.4,522.4L1128.5,545.2M1148.8,561.5L1174.3,581.2M1194.9,597.1L1219.5,615.9M1240.1,631.8L1263.9,650.2M1284.6,666.0L1305.9,682.1M1326.8,697.5L1344.4,710.2M1365.1,725.8L1380.4,738.0M1400.8,754.1L1413.1,763.7M1433.7,779.6L1443.6,787.2M1464.3,802.9L1472.6,809.2M1493.0,825.2L1500.1,830.9M1520.1,847.4L1525.9,852.3M1564.5,874.4L1569.0,879.3M1586.3,898.6L1589.5,902.2M1607.7,920.7L1608.3,921.3" stroke="#000" stroke-width="3" stroke-linecap="round" fill="none"/><circle cx="1764.4" cy="1057.9" r="8.2" fill="#fff" stroke="#000000" stroke-width="1.3"/><circle cx="1750.6" cy="1042.3" r="8.2" fill="#fff" stroke="#000000" stroke-width="1.3"/><circle cx="1737.7" cy="1022.1" r="8.2" fill="#fff" stroke="#000000" stroke-width="1.3"/><circle cx="1722.1" cy="1028.2" r="8.2" fill="#fff" stroke="#000000" stroke-width="1.3"/><circle cx="1706.5" cy="1002.4" r="8.2" fill="#fff" stroke="#000000" stroke-width="1.3"/><circle cx="1690.8" cy="978.0" r="8.2" fill="#fff" stroke="#000000" stroke-width="1.3"/><circle cx="1674.7" cy="964.2" r="8.2" fill="#fff" stroke="#000000" stroke-width="1.3"/><circle cx="1656.8" cy="954.1" r="8.2" fill="#fff" stroke="#000000" stroke-width="1.3"/><circle cx="1637.5" cy="943.4" r="8.2" fill="#fff" stroke="#000000" stroke-width="1.3"/><circle cx="1618.0" cy="930.0" r="8.2" fill="#fff" stroke="#000000" stroke-width="1.3"/><circle cx="1598.0" cy="912.0" r="8.2" fill="#fff" stroke="#000000" stroke-width="1.3"/><circle cx="1577.8" cy="888.8" r="8.2" fill="#fff" stroke="#000000" stroke-width="1.3"/><circle cx="1555.7" cy="864.9" r="8.2" fill="#fff" stroke="#000000" stroke-width="1.3"/><circle cx="1535.9" cy="860.7" r="8.2" fill="#fff" stroke="#000000" stroke-width="1.3"/><circle cx="1510.2" cy="839.0" r="8.2" fill="#fff" stroke="#000000" stroke-width="1.3"/><circle cx="1482.9" cy="817.0" r="8.2" fill="#fff" stroke="#000000" stroke-width="1.3"/><circle cx="1454.0" cy="795.0" r="8.2" fill="#fff" stroke="#000000" stroke-width="1.3"/><circle cx="1423.3" cy="771.7" r="8.2" fill="#fff" stroke="#000000" stroke-width="1.3"/><circle cx="1390.6" cy="746.1" r="8.2" fill="#fff" stroke="#000000" stroke-width="1.3"/><circle cx="1355.0" cy="717.7" r="8.2" fill="#fff" stroke="#000000" stroke-width="1.3"/><circle cx="1316.3" cy="689.9" r="8.2" fill="#fff" stroke="#000000" stroke-width="1.3"/><circle cx="1274.2" cy="658.2" r="8.2" fill="#fff" stroke="#000000" stroke-width="1.3"/><circle cx="1229.8" cy="623.8" r="8.2" fill="#fff" stroke="#000000" stroke-width="1.3"/><circle cx="1184.6" cy="589.2" r="8.2" fill="#fff" stroke="#000000" stroke-width="1.3"/><circle cx="1138.5" cy="553.6" r="8.2" fill="#fff" stroke="#000000" stroke-width="1.3"/><circle cx="1091.5" cy="514.0" r="8.2" fill="#fff" stroke="#000000" stroke-width="1.3"/><circle cx="1044.7" cy="478.2" r="8.2" fill="#fff" stroke="#000000" stroke-width="1.3"/><circle cx="997.4" cy="445.0" r="8.2" fill="#fff" stroke="#000000" stroke-width="1.3"/><circle cx="949.1" cy="413.8" r="8.2" fill="#fff" stroke="#000000" stroke-width="1.3"/><circle cx="900.4" cy="384.4" r="8.2" fill="#fff" stroke="#000000" stroke-width="1.3"/><circle cx="852.2" cy="355.4" r="8.2" fill="#fff" stroke="#000000" stroke-width="1.3"/><circle cx="804.4" cy="329.3" r="8.2" fill="#fff" stroke="#000000" stroke-width="1.3"/><circle cx="758.8" cy="306.3" r="8.2" fill="#fff" stroke="#000000" stroke-width="1.3"/><circle cx="713.2" cy="285.7" r="8.2" fill="#fff" stroke="#000000" stroke-width="1.3"/><circle cx="671.4" cy="267.6" r="8.2" fill="#fff" stroke="#000000" stroke-width="1.3"/><circle cx="631.0" cy="252.9" r="8.2" fill="#fff" stroke="#000000" stroke-width="1.3"/><circle cx="593.3" cy="239.2" r="8.2" fill="#fff" stroke="#000000" stroke-width="1.3"/><circle cx="557.5" cy="228.1" r="8.2" fill="#fff" stroke="#000000" stroke-width="1.3"/><circle cx="524.7" cy="218.6" r="8.2" fill="#fff" stroke="#000000" stroke-width="1.3"/><circle cx="493.5" cy="210.3" r="8.2" fill="#fff" stroke="#000000" stroke-width="1.3"/><circle cx="465.0" cy="202.9" r="8.2" fill="#fff" stroke="#000000" stroke-width="1.3"/><circle cx="438.3" cy="196.9" r="8.2" fill="#fff" stroke="#000000" stroke-width="1.3"/><circle cx="413.5" cy="191.9" r="8.2" fill="#fff" stroke="#000000" stroke-width="1.3"/><circle cx="391.5" cy="186.0" r="8.2" fill="#fff" stroke="#000000" stroke-width="1.3"/><circle cx="370.3" cy="182.7" r="8.2" fill="#fff" stroke="#000000" stroke-width="1.3"/><circle cx="350.0" cy="180.5" r="8.2" fill="#fff" stroke="#000000" stroke-width="1.3"/></g>
<g><path d="M418.1,153.5L419.4,153.9M444.4,161.0L445.5,161.3M470.4,168.7L475.0,170.1M499.7,178.0L504.7,179.7M529.1,188.4L536.9,191.4M561.2,200.5L569.2,203.6M593.5,212.9L604.0,217.1M627.8,227.5L640.2,233.4M663.6,244.7L676.3,251.1M699.6,262.6L714.4,270.1M737.4,282.2L752.6,290.6M775.2,303.6L791.7,313.4M814.0,326.9L830.8,337.2M852.9,351.0L870.1,362.0M891.9,376.2L909.2,387.7M930.6,402.4L947.3,414.0M968.6,428.9L985.3,440.4M1006.5,455.5L1022.6,467.2M1043.5,482.7L1057.1,493.0M1077.9,508.6L1092.9,519.6M1113.6,535.3L1125.6,544.3M1146.4,559.9L1158.1,568.4M1179.1,583.8L1189.4,591.4M1210.3,606.9L1218.9,613.4M1239.6,629.2L1247.3,635.2M1268.0,651.0L1274.7,656.2M1295.5,671.9L1300.5,675.7M1321.9,690.5L1326.5,693.3M1347.5,708.5L1351.8,712.1M1372.0,728.5L1374.8,730.7M1395.6,746.3L1397.3,747.5M1417.1,764.2L1420.2,767.3" stroke="#000" stroke-width="3" stroke-linecap="round" fill="none"/><rect x="1614" y="916" width="16" height="16" fill="#0000ff"/><rect x="1599" y="900" width="16" height="16" fill="#0000ff"/><rect x="1584" y="892" width="16" height="16" fill="#0000ff"/><rect x="1568" y="886" width="16" height="16" fill="#0000ff"/><rect x="1552" y="870" width="16" height="16" fill="#0000ff"/><rect x="1534" y="853" width="16" height="16" fill="#0000ff"/><rect x="1517" y="841" width="16" height="16" fill="#0000ff"/><rect x="1500" y="822" width="16" height="16" fill="#0000ff"/><rect x="1482" y="811" width="16" height="16" fill="#0000ff"/><rect x="1462" y="795" width="16" height="16" fill="#0000ff"/><rect x="1443" y="780" width="16" height="16" fill="#0000ff"/><rect x="1421" y="768" width="16" height="16" fill="#0000ff"/><rect x="1400" y="747" width="16" height="16" fill="#0000ff"/><rect x="1377" y="731" width="16" height="16" fill="#0000ff"/><rect x="1354" y="712" width="16" height="16" fill="#0000ff"/><rect x="1330" y="692" width="16" height="16" fill="#0000ff"/><rect x="1303" y="676" width="16" height="16" fill="#0000ff"/><rect x="1277" y="656" width="16" height="16" fill="#0000ff"/><rect x="1250" y="635" width="16" height="16" fill="#0000ff"/><rect x="1221" y="613" width="16" height="16" fill="#0000ff"/><rect x="1192" y="591" width="16" height="16" fill="#0000ff"/><rect x="1161" y="568" width="16" height="16" fill="#0000ff"/><rect x="1128" y="544" width="16" height="16" fill="#0000ff"/><rect x="1095" y="519" width="16" height="16" fill="#0000ff"/><rect x="1060" y="493" width="16" height="16" fill="#0000ff"/><rect x="1025" y="467" width="16" height="16" fill="#0000ff"/><rect x="988" y="440" width="16" height="16" fill="#0000ff"/><rect x="950" y="414" width="16" height="16" fill="#0000ff"/><rect x="912" y="387" width="16" height="16" fill="#0000ff"/><rect x="873" y="361" width="16" height="16" fill="#0000ff"/><rect x="834" y="336" width="16" height="16" fill="#0000ff"/><rect x="795" y="312" width="16" height="16" fill="#0000ff"/><rect x="756" y="289" width="16" height="16" fill="#0000ff"/><rect x="718" y="268" width="16" height="16" fill="#0000ff"/><rect x="680" y="249" width="16" height="16" fill="#0000ff"/><rect x="644" y="231" width="16" height="16" fill="#0000ff"/><rect x="608" y="214" width="16" height="16" fill="#0000ff"/><rect x="573" y="200" width="16" height="16" fill="#0000ff"/><rect x="541" y="188" width="16" height="16" fill="#0000ff"/><rect x="509" y="176" width="16" height="16" fill="#0000ff"/><rect x="479" y="166" width="16" height="16" fill="#0000ff"/><rect x="450" y="157" width="16" height="16" fill="#0000ff"/><rect x="424" y="149" width="16" height="16" fill="#0000ff"/><rect x="398" y="142" width="16" height="16" fill="#0000ff"/><rect x="373" y="136" width="16" height="16" fill="#0000ff"/><rect x="351" y="131" width="16" height="16" fill="#0000ff"/></g>
<line x1="2066.4" y1="1328.3" x2="2085.5" y2="1344.8" stroke="#0000ff" stroke-width="1.2" stroke-dasharray="2.2,1.6"/>
<line x1="511.9" y1="106.8" x2="2070.7" y2="1210.1" stroke="#00ff00" stroke-width="8.4" stroke-linecap="round" shape-rendering="geometricPrecision"/>
</g>
<g>
<text transform="translate(0,1576.9) scale(1,1.012)" font-size="105.0" stroke-width="0.7"><tspan x="942.63" y="0" font-size="100.8">1</tspan><tspan x="995.11 1022.34" y="0">/(</tspan><tspan x="1058.83" y="2" font-size="99" class="gk">ξ</tspan><tspan x="1101.34" y="0">(</tspan><tspan x="1138.37" y="-1" font-size="99" class="gk">β</tspan><tspan x="1188.39 1216.84 1277.85 1308.96" y="0">,L)/</tspan><tspan x="1337.27" y="-1" font-size="99" class="gk">β</tspan><tspan x="1391.75" y="0">)</tspan><tspan x="1421.19" y="-53.66" font-size="65.5">3</tspan></text>
<text transform="translate(131.1,0) rotate(-90) scale(1,1.012)" font-size="105.0" stroke-width="0.7"><tspan x="-1007.26" y="0">L</tspan><tspan x="-949.91" y="-54.45" font-size="65.5">3</tspan><tspan x="-915.18 -858.56" y="0">g(</tspan><tspan x="-822.39" y="-1" font-size="99" class="gk">β</tspan><tspan x="-771.31 -744.31 -681.35" y="0">,L)</tspan></text>
<text transform="translate(0,94.90) scale(1,1.045)" font-size="62.0" stroke-width="1.0"><tspan x="141.52 174.67 209.67 244.67 279.67" y="0">10000</tspan></text>
<text transform="translate(0,413.50) scale(1,1.045)" font-size="62.0" stroke-width="1.0"><tspan x="176.52 209.67 244.67 279.67" y="0">1000</tspan></text>
<text transform="translate(0,732.10) scale(1,1.045)" font-size="62.0" stroke-width="1.0"><tspan x="211.52 244.67 279.67" y="0">100</tspan></text>
<text transform="translate(0,1050.70) scale(1,1.045)" font-size="62.0" stroke-width="1.0"><tspan x="246.52 279.67" y="0">10</tspan></text>
<text transform="translate(0,1369.30) scale(1,1.045)" font-size="62.0" stroke-width="1.0"><tspan x="282.32" y="0">1</tspan></text>
<text transform="translate(0,1444.7) scale(1,1.045)" font-size="62.0" stroke-width="1.0"><tspan x="314.02 346.17" y="0">10</tspan><tspan x="380.1" y="-29.25" font-size="46" stroke-width="0.5">-</tspan><tspan x="392.88" y="-31.77" font-size="38.6" stroke-width="0.8">3</tspan></text>
<text transform="translate(0,1444.7) scale(1,1.045)" font-size="62.0" stroke-width="1.0"><tspan x="891.72 923.87" y="0">10</tspan><tspan x="957.79" y="-29.25" font-size="46" stroke-width="0.5">-</tspan><tspan x="970.49" y="-31.77" font-size="38.6" stroke-width="0.8">2</tspan></text>
<text transform="translate(0,1444.7) scale(1,1.045)" font-size="62.0" stroke-width="1.0"><tspan x="1469.42 1501.57" y="0">10</tspan><tspan x="1535.5" y="-29.25" font-size="46" stroke-width="0.5">-</tspan><tspan x="1547.71" y="-31.77" font-size="38.6" stroke-width="0.8">1</tspan></text>
<text transform="translate(0,1444.7) scale(1,1.045)" font-size="62.0" stroke-width="1.0"><tspan x="2052.92 2085.07" y="0">10</tspan><tspan x="2119.69" y="-31.77" font-size="38.6" stroke-width="0.8">0</tspan></text>
</g>
</svg>
</body></html>
